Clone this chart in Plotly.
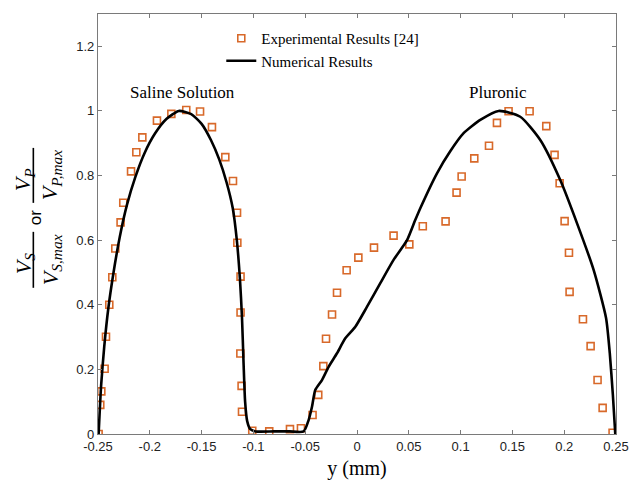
import plotly.graph_objects as go

# Experimental data (open squares)
exp_x = [-0.2494, -0.2478, -0.2468, -0.2436, -0.2423, -0.2391, -0.2362, -0.2333, -0.2282, -0.2256,
         -0.2181, -0.2130, -0.2072, -0.1931, -0.1792, -0.1648, -0.1515, -0.1400, -0.1271, -0.1197,
         -0.1158, -0.1155, -0.1124, -0.1124, -0.1126, -0.1114, -0.1110,
         -0.1011, -0.0847, -0.0647, -0.0541, -0.0429, -0.0374, -0.0325, -0.0299, -0.0241, -0.0193,
         -0.0100, 0.0013, 0.0164, 0.0353, 0.0505, 0.0635,
         0.0855, 0.0961, 0.1010, 0.1132, 0.1274, 0.1351, 0.1463, 0.1666, 0.1827, 0.1907, 0.1956,
         0.2004, 0.2046, 0.2052, 0.2181, 0.2255, 0.2322, 0.2371, 0.2467]
exp_y = [0.000, 0.090, 0.132, 0.202, 0.301, 0.400, 0.485, 0.574, 0.655, 0.716,
         0.813, 0.872, 0.918, 0.970, 0.991, 1.003, 0.998, 0.950, 0.857, 0.783,
         0.685, 0.592, 0.487, 0.376, 0.249, 0.149, 0.069,
         0.010, 0.008, 0.015, 0.018, 0.059, 0.121, 0.210, 0.295, 0.370, 0.437,
         0.507, 0.546, 0.577, 0.614, 0.587, 0.643,
         0.658, 0.747, 0.797, 0.853, 0.892, 0.963, 0.999, 0.999, 0.953, 0.864, 0.776,
         0.659, 0.561, 0.440, 0.355, 0.272, 0.167, 0.081, 0.004]

# Numerical results (solid line)
num_x = [-0.2494, -0.2470, -0.2440, -0.2400, -0.2350, -0.2290, -0.2220, -0.2140, -0.2050, -0.1950,
         -0.1840, -0.1720, -0.1600, -0.1500, -0.1410, -0.1330, -0.1260, -0.1200, -0.1160, -0.1130,
         -0.1110, -0.1095, -0.1080, -0.1060, -0.1030, -0.0980, -0.0800, -0.0650, -0.0515,
         -0.0467, -0.0434, -0.0403, -0.0338, -0.0274, -0.0193, -0.0113, -0.0016, 0.0097,
         0.0225, 0.0353, 0.0483, 0.0563, 0.0611, 0.0772, 0.0900, 0.1029, 0.1190, 0.1367,
         0.1576, 0.1769, 0.1962, 0.2124, 0.2284, 0.2404, 0.2440, 0.2470, 0.2493]
num_y = [0.000, 0.150, 0.270, 0.390, 0.500, 0.610, 0.710, 0.795, 0.870, 0.930,
         0.975, 1.000, 0.990, 0.960, 0.910, 0.850, 0.780, 0.700, 0.600, 0.480,
         0.360, 0.220, 0.100, 0.040, 0.015, 0.008, 0.008, 0.008, 0.008,
         0.043, 0.085, 0.136, 0.167, 0.208, 0.250, 0.296, 0.332, 0.394,
         0.467, 0.539, 0.600, 0.663, 0.699, 0.807, 0.875, 0.931, 0.972, 1.000,
         0.982, 0.910, 0.786, 0.652, 0.508, 0.359, 0.250, 0.120, 0.000]

x_ticks = [-0.25, -0.2, -0.15, -0.1, -0.05, 0, 0.05, 0.1, 0.15, 0.2, 0.25]
x_tick_text = ["-0.25", "-0.2", "-0.15", "-0.1", "-0.05", "0", "0.05", "0.1", "0.15", "0.2", "0.25"]
y_ticks = [0, 0.2, 0.4, 0.6, 0.8, 1, 1.2]
y_tick_text = ["0", "0.2", "0.4", "0.6", "0.8", "1", "1.2"]

ORANGE = "#D8692A"
SERIF = "Liberation Serif, Times New Roman, serif"
SANS = "Liberation Sans, Arial, sans-serif"

fig = go.Figure()
fig.add_trace(go.Scatter(
    x=exp_x, y=exp_y, mode="markers", name="Experimental Results [24]",
    marker=dict(symbol="square-open", size=7, color=ORANGE, line=dict(width=1.6, color=ORANGE)),
))
fig.add_trace(go.Scatter(
    x=num_x, y=num_y, mode="lines", name="Numerical Results",
    line=dict(color="black", width=2.6, shape="spline", smoothing=0.6),
))

fig.add_annotation(x=-0.168, y=1.056, xref="x", yref="y", text="Saline Solution",
                   showarrow=False, font=dict(family=SERIF, size=17, color="black"))
fig.add_annotation(x=0.136, y=1.057, xref="x", yref="y", text="Pluronic",
                   showarrow=False, font=dict(family=SERIF, size=17, color="black"))

# Y-axis label built from rotated text pieces and fraction bars
LAB = dict(family=SERIF, size=22, color="black")
def px2paper(px, py):
    return (px - 97.7) / 518.3, (434.3 - py) / 420.3

for txt, (px, py), fnt in [
    ("<i>V</i><sub><i>S</i></sub>", (24, 264), LAB),
    ("<i>V</i><sub><i>S,max</i></sub>", (51, 260), LAB),
    ("or", (36, 218), dict(family=SANS, size=17, color="black")),
    ("<i>V</i><sub><i>P</i></sub>", (24, 180), LAB),
    ("<i>V</i><sub><i>P,max</i></sub>", (51, 175), LAB),
]:
    ax_, ay_ = px2paper(px, py)
    fig.add_annotation(x=ax_, y=ay_, xref="paper", yref="paper", text=txt, textangle=-90,
                       showarrow=False, font=fnt, xanchor="center", yanchor="middle")

for (py0, py1) in [(232, 288), (148, 203)]:
    x0, y0 = px2paper(33, py0)
    _, y1 = px2paper(33, py1)
    fig.add_shape(type="line", xref="paper", yref="paper", x0=x0, x1=x0, y0=y0, y1=y1,
                  line=dict(color="black", width=1.6))

axis_common = dict(showline=True, linecolor="#7a7a7a", linewidth=1.3, mirror="ticks",
                   ticks="inside", ticklen=4, tickcolor="#7a7a7a", showgrid=False, zeroline=False,
                   automargin=False,
                   tickfont=dict(family=SANS, size=13, color="#222222"))

fig.update_xaxes(range=[-0.25, 0.25], tickvals=x_ticks, ticktext=x_tick_text,
                 title=dict(text="y (mm)", font=dict(family=SERIF, size=20, color="black"), standoff=8),
                 **axis_common)
fig.update_yaxes(range=[0, 1.3], tickvals=y_ticks, ticktext=y_tick_text, **axis_common)

fig.update_layout(
    width=631, height=484, autosize=False,
    margin=dict(l=98, r=15, t=14, b=50),
    paper_bgcolor="white", plot_bgcolor="white",
    showlegend=True,
    legend=dict(x=0.238, y=0.981, xanchor="left", yanchor="top", bgcolor="rgba(0,0,0,0)",
                font=dict(family=SERIF, size=15, color="black"), itemwidth=30, tracegroupgap=0),
)

fig.write_html("out.html", config={"displayModeBar": False},
               post_script="document.body.style.margin='0';document.body.style.overflow='hidden';")
